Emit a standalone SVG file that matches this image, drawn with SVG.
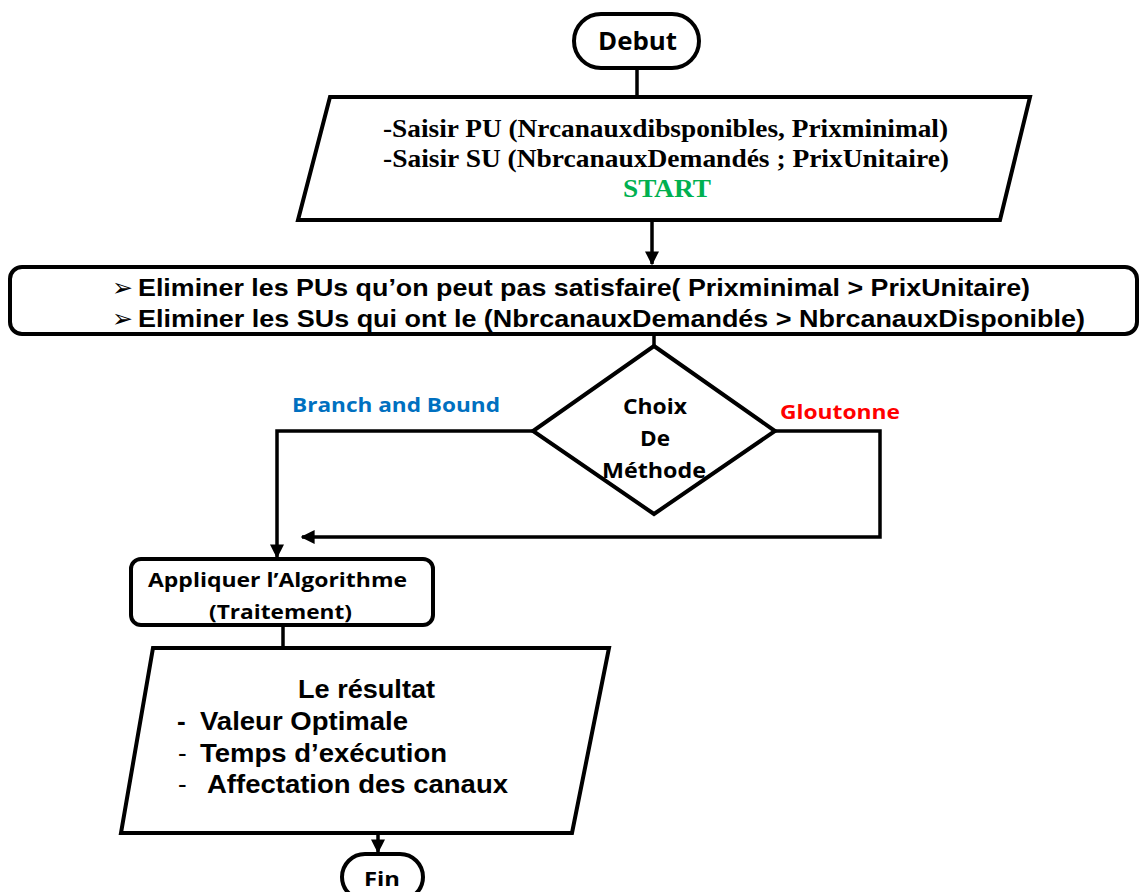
<svg xmlns="http://www.w3.org/2000/svg" width="1140" height="892" viewBox="0 0 1140 892">
<style>
.shape{fill:#fff;stroke:#000;stroke-width:4;stroke-linejoin:miter}
.conn{fill:none;stroke:#000;stroke-width:3.5}
.cal{font-family:"Open Sans",Lato,"Liberation Sans",sans-serif;font-weight:bold;fill:#000}
.tnr{font-family:"Liberation Serif","Times New Roman",serif;font-weight:bold;font-size:25px;fill:#000}
.ari{font-family:"Liberation Sans",Arial,sans-serif;font-weight:bold;fill:#000}
.sym{font-family:"DejaVu Sans",sans-serif;fill:#000}
</style>
<defs>
<marker id="arr" viewBox="0 0 10 10" refX="9" refY="5" markerWidth="4" markerHeight="4" orient="auto" markerUnits="strokeWidth">
<path d="M0,0 L10,5 L0,10 z" fill="#000"/>
</marker>
</defs>
<rect width="1140" height="892" fill="#fff"/>
<g id="connectors">
<line class="conn" x1="637" y1="68" x2="637" y2="97"/>
<line class="conn" x1="652" y1="220" x2="652" y2="264" marker-end="url(#arr)"/>
<line class="conn" x1="654" y1="334" x2="654" y2="346"/>
<polyline class="conn" points="533,431 277,431 277,557" marker-end="url(#arr)"/>
<polyline class="conn" points="775,431 880,431 880,537 302,537" marker-end="url(#arr)"/>
<line class="conn" x1="283" y1="625" x2="283" y2="648"/>
<line class="conn" x1="378" y1="833" x2="378" y2="852" marker-end="url(#arr)"/>
</g>
<g id="debut">
<rect class="shape" x="574" y="14" width="125" height="54" rx="27"/>
<text class="cal" x="598" y="50" font-size="25" textLength="79" lengthAdjust="spacingAndGlyphs">Debut</text>
</g>
<g id="saisir">
<polygon class="shape" points="330,97 1030,97 1000,220 298,220"/>
<text class="tnr" x="383" y="137" textLength="565" lengthAdjust="spacingAndGlyphs">-Saisir PU (Nrcanauxdibsponibles, Prixminimal)</text>
<text class="tnr" x="383" y="167" textLength="566" lengthAdjust="spacingAndGlyphs">-Saisir SU (NbrcanauxDemandés ; PrixUnitaire)</text>
<text class="tnr" x="623" y="197" textLength="88" lengthAdjust="spacingAndGlyphs" style="fill:#00B050">START</text>
</g>
<g id="eliminer">
<rect class="shape" x="10" y="267" width="1127" height="67" rx="12"/>
<text class="sym" x="112" y="296" font-size="25">➢</text>
<text class="ari" x="138" y="296" font-size="24" textLength="892" lengthAdjust="spacingAndGlyphs">Eliminer les PUs qu’on peut pas satisfaire( Prixminimal &gt; PrixUnitaire)</text>
<text class="sym" x="112" y="327" font-size="25">➢</text>
<text class="ari" x="138" y="327" font-size="24" textLength="947" lengthAdjust="spacingAndGlyphs">Eliminer les SUs qui ont le (NbrcanauxDemandés &gt; NbrcanauxDisponible)</text>
</g>
<g id="choix">
<polygon class="shape" points="654,346 775,431 654,514 533,431"/>
<text class="cal" x="623" y="414" font-size="21" textLength="64" lengthAdjust="spacingAndGlyphs">Choix</text>
<text class="cal" x="640" y="446" font-size="21" textLength="30" lengthAdjust="spacingAndGlyphs">De</text>
<text class="cal" x="602" y="478" font-size="21" textLength="104" lengthAdjust="spacingAndGlyphs">Méthode</text>
</g>
<g id="labels">
<text class="cal" x="292" y="412" font-size="20" textLength="208" lengthAdjust="spacingAndGlyphs" style="fill:#0070C0">Branch and Bound</text>
<text class="cal" x="780" y="419" font-size="20" textLength="120" lengthAdjust="spacingAndGlyphs" style="fill:#FF0000">Gloutonne</text>
</g>
<g id="appliquer">
<rect class="shape" x="131" y="559" width="302" height="66" rx="10"/>
<text class="cal" x="148" y="587" font-size="20" textLength="259" lengthAdjust="spacingAndGlyphs">Appliquer l’Algorithme</text>
<text class="cal" x="209" y="619" font-size="20" textLength="143" lengthAdjust="spacingAndGlyphs">(Traitement)</text>
</g>
<g id="resultat">
<polygon class="shape" points="153,648 609,648 572,833 121,833"/>
<text class="ari" x="298" y="698" font-size="26" textLength="137" lengthAdjust="spacingAndGlyphs">Le résultat</text>
<text class="ari" x="177" y="730" font-size="26">-</text>
<text class="ari" x="200" y="730" font-size="26" textLength="208" lengthAdjust="spacingAndGlyphs">Valeur Optimale</text>
<text class="ari" x="178" y="762" font-size="26" style="font-weight:normal">-</text>
<text class="ari" x="200" y="762" font-size="26" textLength="247" lengthAdjust="spacingAndGlyphs">Temps d’exécution</text>
<text class="ari" x="178" y="793" font-size="26" style="font-weight:normal">-</text>
<text class="ari" x="207" y="793" font-size="26" textLength="301" lengthAdjust="spacingAndGlyphs">Affectation des canaux</text>
</g>
<g id="fin">
<rect class="shape" x="342" y="854" width="81" height="46" rx="23"/>
<text class="cal" x="364" y="886" font-size="20" textLength="36" lengthAdjust="spacingAndGlyphs">Fin</text>
</g>
</svg>
